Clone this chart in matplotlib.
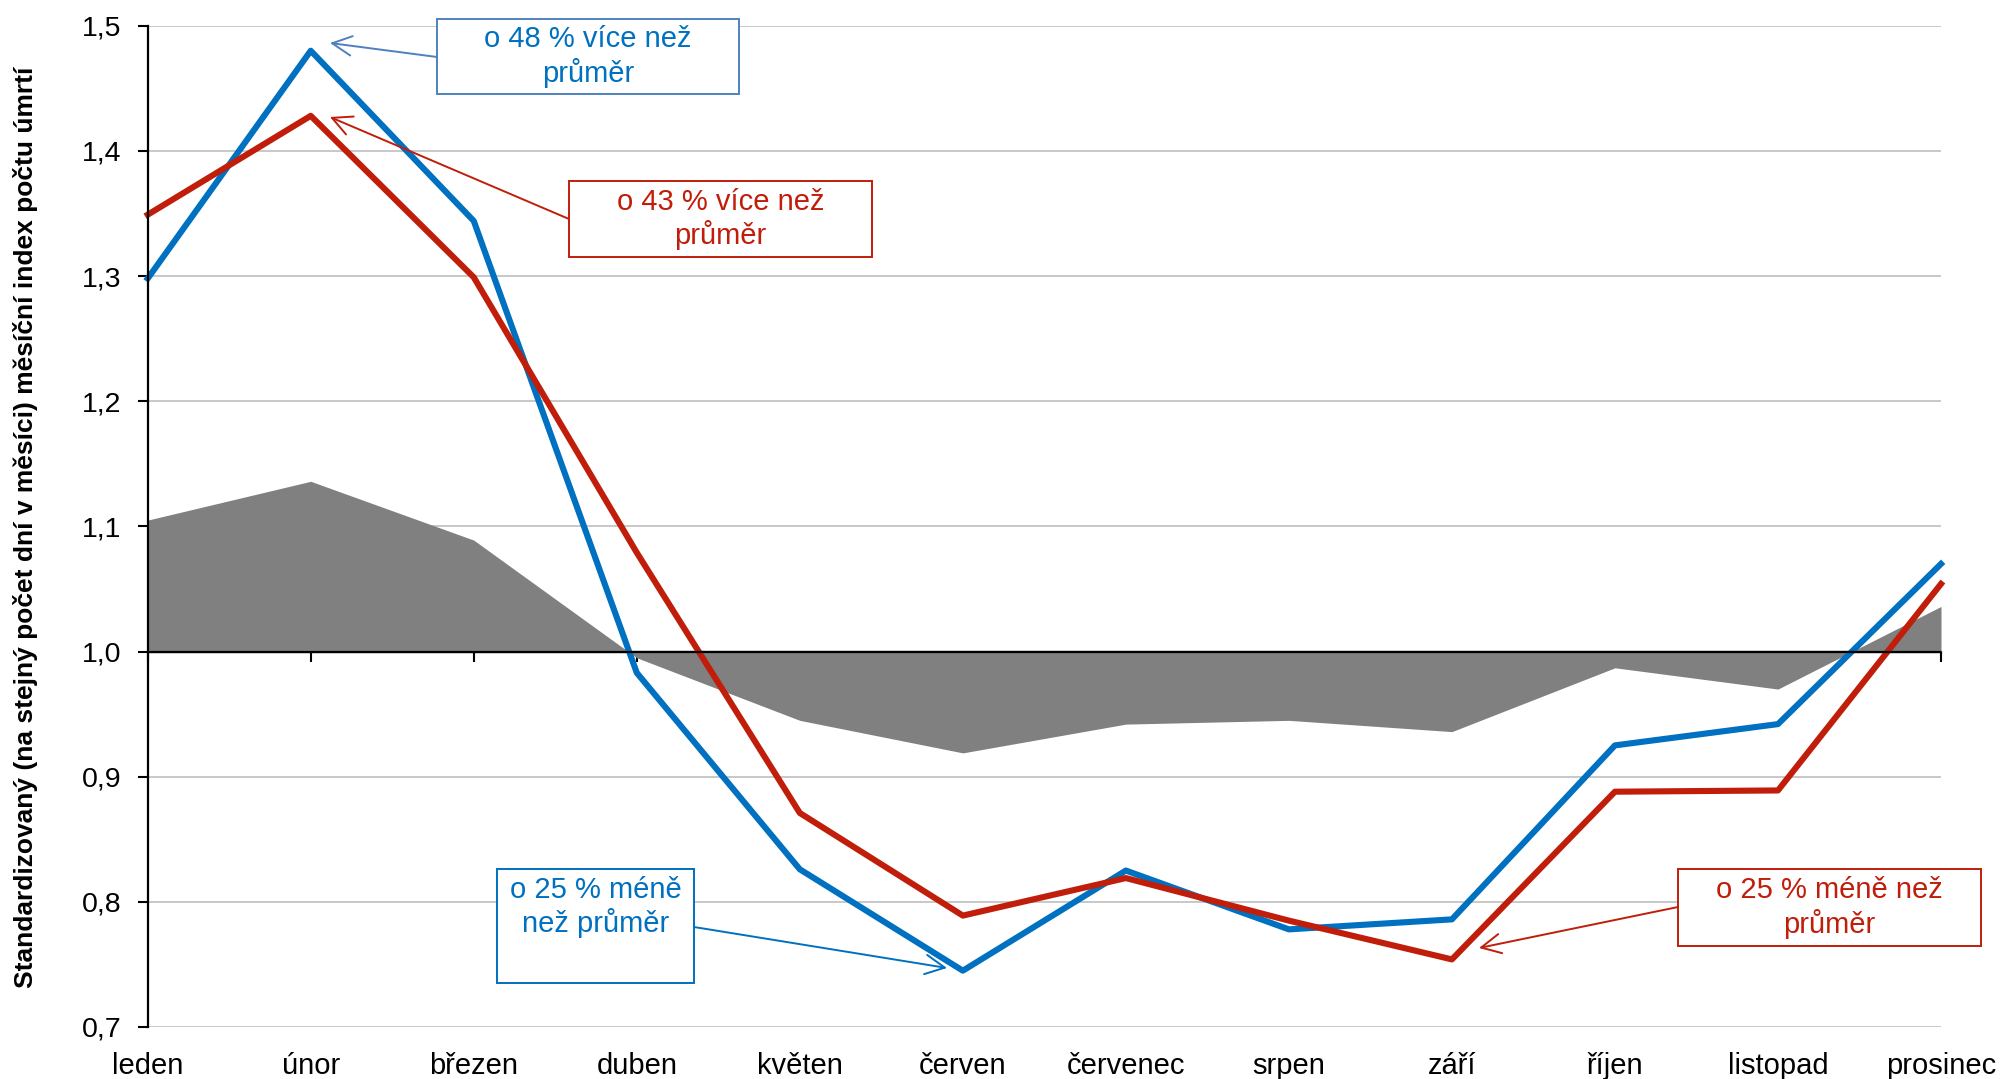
import matplotlib
matplotlib.use('Agg')
import matplotlib.pyplot as plt
from matplotlib.patches import Rectangle
import numpy as np

# ---- data ----
months = ['leden', 'únor', 'březen', 'duben', 'květen', 'červen',
          'červenec', 'srpen', 'září', 'říjen', 'listopad', 'prosinec']
blue_vals = [1.298, 1.480, 1.344, 0.983, 0.826, 0.745,
             0.825, 0.778, 0.786, 0.925, 0.942, 1.070]
red_vals = [1.349, 1.428, 1.299, 1.079, 0.871, 0.789,
            0.819, 0.785, 0.754, 0.888, 0.889, 1.054]
gray_vals = [1.105, 1.136, 1.089, 0.995, 0.945, 0.919,
             0.942, 0.945, 0.936, 0.987, 0.970, 1.036]
y_ticks = [0.7, 0.8, 0.9, 1.0, 1.1, 1.2, 1.3, 1.4, 1.5]
y_tick_labels = ['0,7', '0,8', '0,9', '1,0', '1,1', '1,2', '1,3', '1,4', '1,5']
y_label = 'Standardizovaný (na stejný počet dní v měsíci) měsíční index počtu úmrtí'

BLUE = '#0070C0'
RED = '#C01E0A'
plt.rcParams['font.family'] = ['Liberation Sans', 'DejaVu Sans']

W, H = 2004, 1079
fig = plt.figure(figsize=(W / 100, H / 100), dpi=100)
L, R, T, B = 147.7, 1941.0, 25.7, 1027.0
ax = fig.add_axes([L / W, 1 - B / H, (R - L) / W, (B - T) / H])

x = np.arange(len(months))
ax.fill_between(x, 1.0, gray_vals, color='#808080', lw=0, zorder=2)
ax.plot(x, blue_vals, color=BLUE, lw=4.4, zorder=4, clip_on=False)
ax.plot(x, red_vals, color=RED, lw=4.4, zorder=5, clip_on=False)

ax.set_xlim(0, len(months) - 1)
ax.set_ylim(0.7, 1.5)
ax.set_yticks(y_ticks)
ax.set_yticklabels(y_tick_labels, fontsize=20.5)
for yv in y_ticks:
    if yv != 1.0:
        ax.axhline(yv, color='#BFBFBF', lw=1.2, zorder=1)

for s in ['top', 'right', 'bottom']:
    ax.spines[s].set_visible(False)
ax.spines['left'].set_linewidth(1.6)
ax.spines['left'].set_zorder(6)
ax.tick_params(axis='y', length=7, width=1.5, pad=12, direction='out')

ax.set_xticks(x)
ax.set_xticklabels(months, fontsize=21)
ax.tick_params(axis='x', length=0, pad=18)

# x axis line at 1.0 with ticks
sec = ax.secondary_xaxis((1.0 - 0.7) / 0.8)
sec.set_xticks(x)
sec.tick_params(axis='x', length=7, width=1.5, direction='out', labelbottom=False)
sec.spines['bottom'].set_linewidth(1.6)
sec.spines['bottom'].set_zorder(6)
ax.axhline(1.0, color='black', lw=1.6, zorder=6)

fig.text(26 / W, 1 - 527 / H, y_label, rotation=90, fontsize=19,
         fontweight='bold', ha='center', va='center')


def fp(px, py):
    return (px, H - py)


def box(x0, y0, x1, y1, ec):
    fig.patches.append(Rectangle((x0 / W, 1 - y1 / H), (x1 - x0) / W, (y1 - y0) / H,
                                 transform=fig.transFigure, fill=True, fc='white',
                                 ec=ec, lw=1.4, zorder=10))


def arrow(start, tip, color):
    fig.add_artist(plt.matplotlib.text.Annotation(
        '', xy=fp(*tip), xytext=fp(*start), xycoords='figure pixels',
        textcoords='figure pixels',
        arrowprops=dict(arrowstyle='->,head_length=0.7,head_width=0.35',
                        color=color, lw=1.4, mutation_scale=20,
                        shrinkA=0, shrinkB=0)))


# top blue
arrow((437, 57), (330, 43), '#4F81BD')
box(437, 19, 739, 94, '#4F81BD')
fig.text(588 / W, 1 - 56.5 / H, 'o 48 % více než\nprůměr', color=BLUE, fontsize=21,
         ha='center', va='center', linespacing=1.2, zorder=11)

# top red
arrow((569, 219), (330, 117), RED)
box(569, 181, 872, 257, RED)
fig.text(720.5 / W, 1 - 219 / H, 'o 43 % více než\nprůměr', color=RED, fontsize=21,
         ha='center', va='center', linespacing=1.2, zorder=11)

# bottom blue
arrow((694, 927), (947, 968), BLUE)
box(497, 869, 694, 983, BLUE)
fig.text(595.5 / W, 1 - 907 / H, 'o 25 % méně\nnež průměr', color=BLUE, fontsize=21,
         ha='center', va='center', linespacing=1.2, zorder=11)

# bottom red
arrow((1678, 907), (1479, 948), RED)
box(1678, 869, 1981, 946, RED)
fig.text(1829.5 / W, 1 - 907.5 / H, 'o 25 % méně než\nprůměr', color=RED, fontsize=21,
         ha='center', va='center', linespacing=1.2, zorder=11)

fig.savefig('out.png', dpi=100)
